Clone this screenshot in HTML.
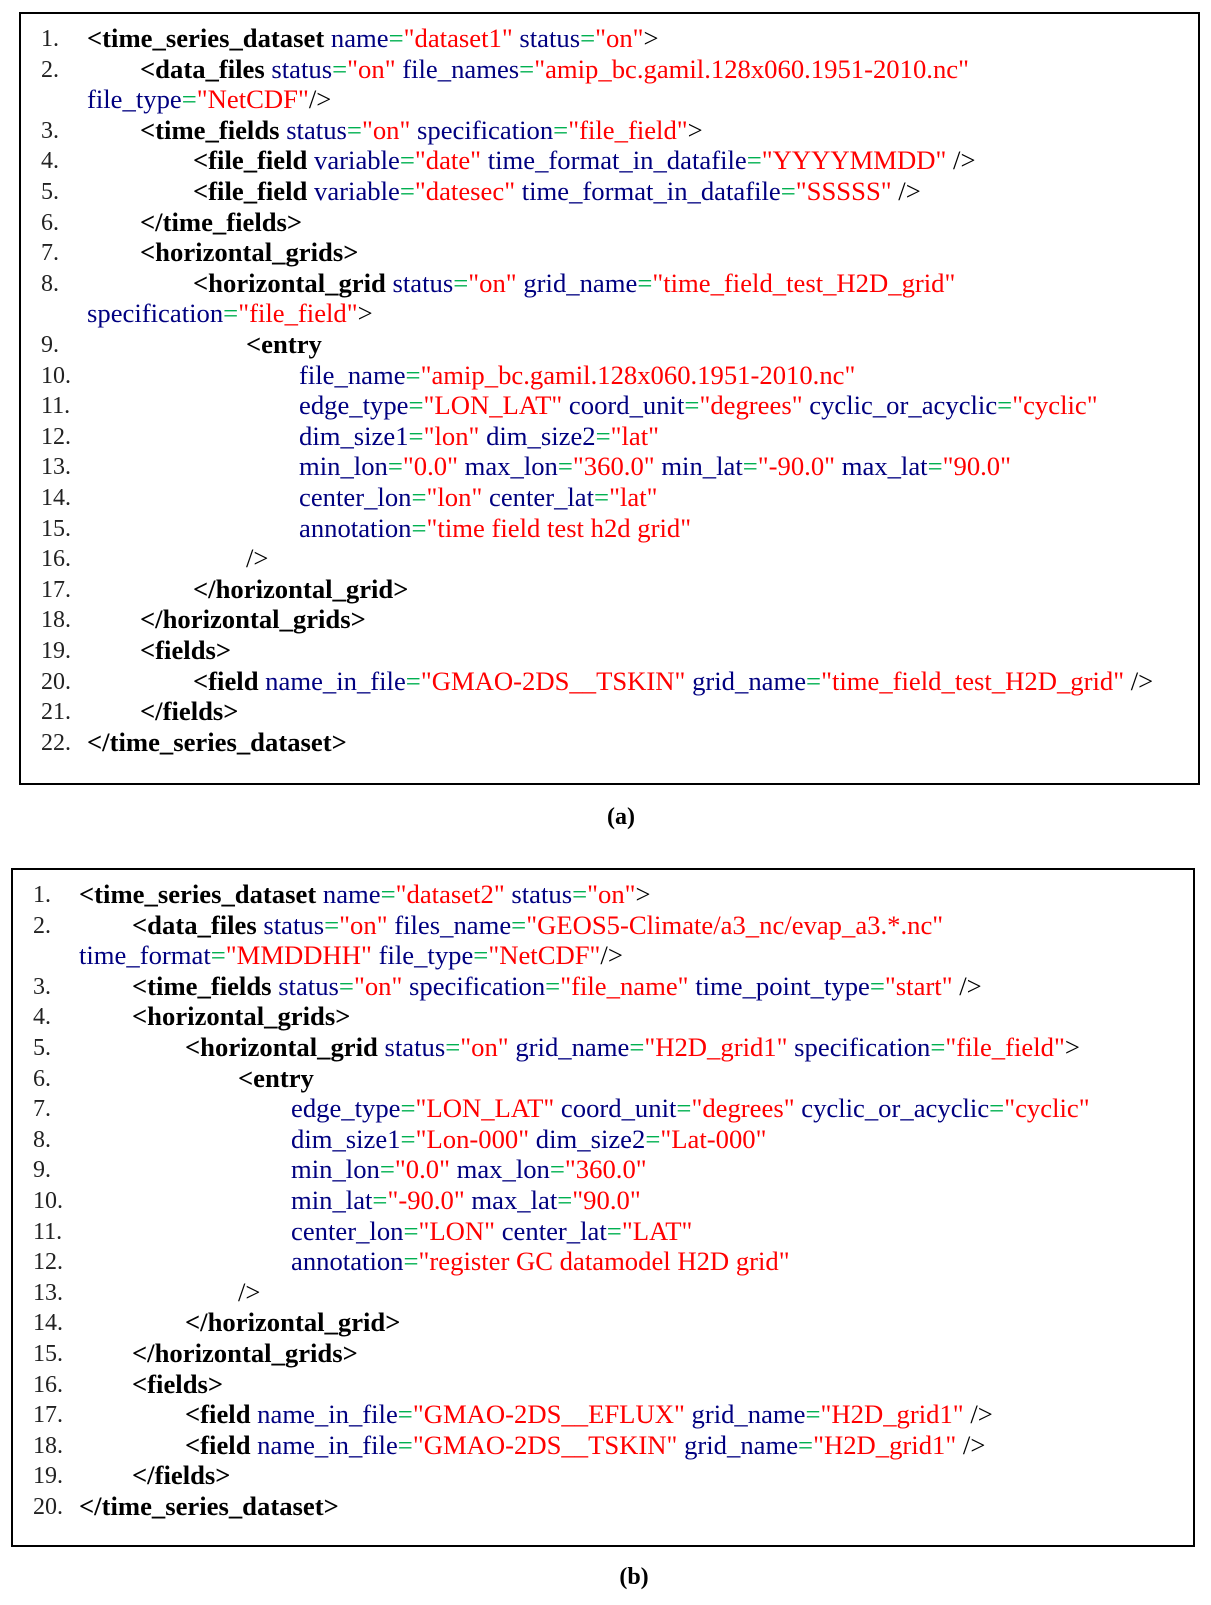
<!DOCTYPE html>
<html><head><meta charset="utf-8"><style>
body{margin:0;width:1211px;height:1605px;background:#fff;position:relative;font-family:"Liberation Serif",serif;font-size:26px;color:#000}
.box{position:absolute;border:2px solid #000;box-sizing:border-box}
.r{position:absolute;white-space:pre;line-height:30px;transform:scaleX(1.025);transform-origin:0 0}
.n{position:absolute;white-space:pre;line-height:30px;color:#222;font-size:24px}
b{font-weight:bold;color:#000}
.a{color:#000080}.e{color:#00b050}.v{color:#ff0000}
.cap{position:absolute;font-weight:bold;font-size:24px;transform:translateX(-50%)}
</style></head><body>
<div class="box" style="left:19px;top:12px;width:1181px;height:773px"></div>
<div class="box" style="left:11px;top:868px;width:1184px;height:679px"></div>
<div class="cap" style="left:621px;top:804px">(a)</div>
<div class="cap" style="left:634px;top:1564px">(b)</div>
<div id="A"></div><div id="B"></div>
<script>
function q(s){return s.replace(/&/g,'&amp;').replace(/</g,'&lt;').replace(/>/g,'&gt;');}
function T(t){return '<b>'+q(t)+'</b>';}
function A(n,v){return '<span class="a">'+q(n)+'</span><span class="e">=</span><span class="v">"'+q(v)+'"</span>';}
function P(s){return q(s);}
function render(el,rows,x0,num0,top,lh,step){
 let h='';rows.forEach((r,i)=>{const y=top+i*lh-15;
  if(r[0])h+='<div class="n" style="left:'+num0+'px;top:'+y+'px">'+r[0]+'.</div>';
  h+='<div class="r" style="left:'+(x0+r[1]*step)+'px;top:'+y+'px">'+r[2]+'</div>';});
 document.getElementById(el).outerHTML=h;}
render('A',[
[1,0,T('<time_series_dataset')+' '+A('name','dataset1')+' '+A('status','on')+P('>')],
[2,1,T('<data_files')+' '+A('status','on')+' '+A('file_names','amip_bc.gamil.128x060.1951-2010.nc')],
['',0,A('file_type','NetCDF')+P('/>')],
[3,1,T('<time_fields')+' '+A('status','on')+' '+A('specification','file_field')+P('>')],
[4,2,T('<file_field')+' '+A('variable','date')+' '+A('time_format_in_datafile','YYYYMMDD')+' '+P('/>')],
[5,2,T('<file_field')+' '+A('variable','datesec')+' '+A('time_format_in_datafile','SSSSS')+' '+P('/>')],
[6,1,T('</time_fields>')],
[7,1,T('<horizontal_grids>')],
[8,2,T('<horizontal_grid')+' '+A('status','on')+' '+A('grid_name','time_field_test_H2D_grid')],
['',0,A('specification','file_field')+P('>')],
[9,3,T('<entry')],
[10,4,A('file_name','amip_bc.gamil.128x060.1951-2010.nc')],
[11,4,A('edge_type','LON_LAT')+' '+A('coord_unit','degrees')+' '+A('cyclic_or_acyclic','cyclic')],
[12,4,A('dim_size1','lon')+' '+A('dim_size2','lat')],
[13,4,A('min_lon','0.0')+' '+A('max_lon','360.0')+' '+A('min_lat','-90.0')+' '+A('max_lat','90.0')],
[14,4,A('center_lon','lon')+' '+A('center_lat','lat')],
[15,4,A('annotation','time field test h2d grid')],
[16,3,P('/>')],
[17,2,T('</horizontal_grid>')],
[18,1,T('</horizontal_grids>')],
[19,1,T('<fields>')],
[20,2,T('<field')+' '+A('name_in_file','GMAO-2DS__TSKIN')+' '+A('grid_name','time_field_test_H2D_grid')+' '+P('/>')],
[21,1,T('</fields>')],
[22,0,T('</time_series_dataset>')]
],87,41,39,30.6,53);
render('B',[
[1,0,T('<time_series_dataset')+' '+A('name','dataset2')+' '+A('status','on')+P('>')],
[2,1,T('<data_files')+' '+A('status','on')+' '+A('files_name','GEOS5-Climate/a3_nc/evap_a3.*.nc')],
['',0,A('time_format','MMDDHH')+' '+A('file_type','NetCDF')+P('/>')],
[3,1,T('<time_fields')+' '+A('status','on')+' '+A('specification','file_name')+' '+A('time_point_type','start')+' '+P('/>')],
[4,1,T('<horizontal_grids>')],
[5,2,T('<horizontal_grid')+' '+A('status','on')+' '+A('grid_name','H2D_grid1')+' '+A('specification','file_field')+P('>')],
[6,3,T('<entry')],
[7,4,A('edge_type','LON_LAT')+' '+A('coord_unit','degrees')+' '+A('cyclic_or_acyclic','cyclic')],
[8,4,A('dim_size1','Lon-000')+' '+A('dim_size2','Lat-000')],
[9,4,A('min_lon','0.0')+' '+A('max_lon','360.0')],
[10,4,A('min_lat','-90.0')+' '+A('max_lat','90.0')],
[11,4,A('center_lon','LON')+' '+A('center_lat','LAT')],
[12,4,A('annotation','register GC datamodel H2D grid')],
[13,3,P('/>')],
[14,2,T('</horizontal_grid>')],
[15,1,T('</horizontal_grids>')],
[16,1,T('<fields>')],
[17,2,T('<field')+' '+A('name_in_file','GMAO-2DS__EFLUX')+' '+A('grid_name','H2D_grid1')+' '+P('/>')],
[18,2,T('<field')+' '+A('name_in_file','GMAO-2DS__TSKIN')+' '+A('grid_name','H2D_grid1')+' '+P('/>')],
[19,1,T('</fields>')],
[20,0,T('</time_series_dataset>')]
],79,33,895,30.6,53);
</script>
</body></html>
